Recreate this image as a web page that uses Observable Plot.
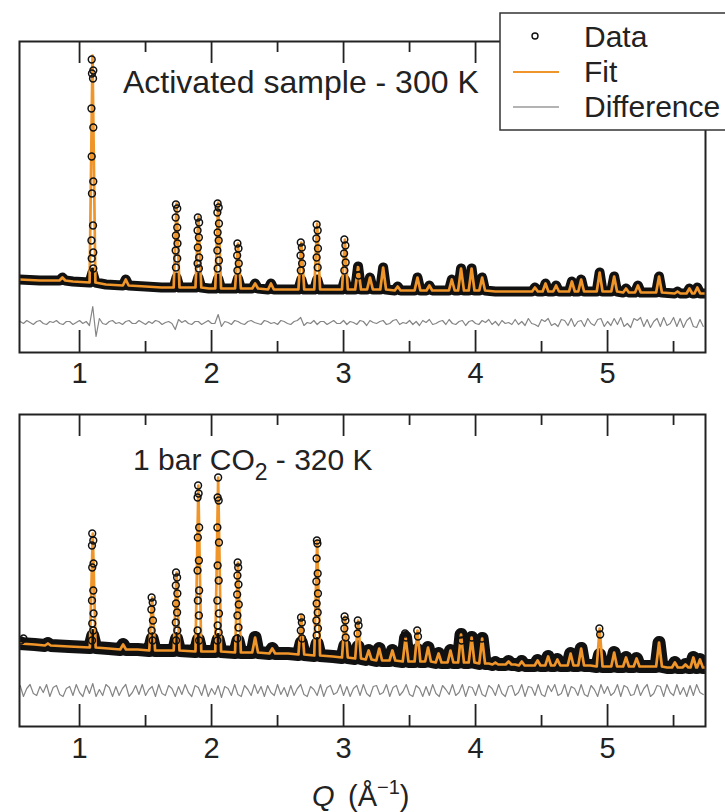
<!DOCTYPE html>
<html><head><meta charset="utf-8">
<script src="https://cdn.jsdelivr.net/npm/d3@7"></script>
<script src="https://cdn.jsdelivr.net/npm/@observablehq/plot@0.6"></script>
<style>
body{margin:0;background:#fff;overflow:hidden}
#wrap{position:relative;width:725px;height:812px;overflow:hidden;font-family:"Liberation Sans",Arial,sans-serif}
#wrap > svg{display:block}
#overlay{position:absolute;left:0;top:0}
</style></head><body><div id="wrap"></div>
<script>
// ---------- axis ----------
const xDomain = [0.545, 5.742];
const majorTicks = [1, 2, 3, 4, 5];
const minorTicks = [1.5, 2.5, 3.5, 4.5, 5.5];
const legendLabels = ["Data", "Fit", "Difference"];
const topTitle = "Activated sample - 300 K";
const botTitle = ["1 bar CO", "2", " - 320 K"];

// ---------- top panel (activated, 300 K) ----------
const topBgQ = [0.545,0.70,0.95,1.20,1.50,1.62,1.98,2.55,2.92,3.50,3.74,4.15,4.30,4.87,5.30,5.742];
const topBgI = [0.73,0.72,0.71,0.68,0.66,0.65,0.64,0.63,0.63,0.62,0.62,0.61,0.61,0.61,0.60,0.59];
const topPeakQ = [0.87,1.098,1.35,1.735,1.90,2.05,2.20,2.33,2.45,2.68,2.80,3.01,3.11,3.20,3.30,3.41,3.56,3.65,3.82,3.89,3.97,4.05,4.45,4.53,4.61,4.73,4.80,4.94,5.05,5.14,5.23,5.39,5.53,5.62,5.68];
const topPeakI = [0.75,2.97,0.73,1.49,1.36,1.50,1.09,0.69,0.69,1.10,1.29,1.13,0.86,0.75,0.85,0.66,0.75,0.67,0.73,0.84,0.84,0.75,0.65,0.69,0.67,0.71,0.73,0.80,0.76,0.64,0.67,0.76,0.61,0.64,0.65];
const topPeakBase = [0.72,0.70,0.67,0.65,0.65,0.64,0.64,0.64,0.63,0.63,0.63,0.63,0.63,0.63,0.63,0.62,0.62,0.62,0.62,0.62,0.62,0.62,0.61,0.61,0.61,0.61,0.61,0.61,0.61,0.60,0.60,0.60,0.59,0.59,0.59];
const topDotQ = [1.092,1.104,1.094,1.102,1.090,1.104,1.092,1.104,1.094,1.102,1.090,1.104,1.092,1.104,
  1.730,1.740,1.728,1.740,1.730,1.742,1.728,1.740,1.730,
  1.896,1.906,1.894,1.904,1.896,1.906,1.894,1.904,
  2.046,2.054,2.044,2.056,2.046,2.054,2.044,2.056,2.046,
  2.196,2.204,2.194,2.206,2.196,
  2.676,2.684,2.674,2.686,2.676,
  2.796,2.804,2.794,2.806,2.796,2.804,
  3.006,3.014,3.004,3.016,3.006,
  3.106,3.114];
const topDotI = [2.93,2.82,2.79,2.74,2.44,2.25,1.96,1.71,1.59,1.27,1.12,1.00,0.94,0.84,
  1.48,1.44,1.35,1.25,1.17,1.09,1.02,0.94,0.85,
  1.35,1.30,1.22,1.15,1.05,0.95,0.89,0.84,
  1.49,1.45,1.40,1.29,1.20,1.12,1.02,0.92,0.84,
  1.09,1.04,0.97,0.89,0.82,
  1.10,1.05,0.97,0.89,0.82,
  1.28,1.22,1.14,1.04,0.95,0.85,
  1.13,1.07,0.99,0.90,0.82,
  0.84,0.77];
const topDiffOffset = 0.30;
const topDiffRes = [1,-1,2,0,-2,1,2,-1,-2,1, 0,2,-1,-2,1,1,-2,0,2,-1, 1,-3,16,-14,4,-1,-2,1,2,-1,
  0,-2,1,2,-1,-1,2,0,-2,1, -1,2,1,-2,0,1,-1,-7,3,0, 2,-1,-2,1,1,-2,0,2,-1,-1,
  8,-4,1,0,-2,2,1,-1,-2,1, 2,0,-1,-2,2,1,-1,0,-2,2, 1,-1,-2,1,2,5,-3,0,-1,2,
  -2,1,1,-2,0,2,-1,-1,2,-2, 1,0,-2,2,1,-3,2,0,-1,1, 2,-2,-1,2,3,-2,0,-1,2,-2,
  1,-3,2,0,3,-2,-1,1,2,-2, 3,-1,-2,1,2,-3,1,2,-1,-2, 2,0,3,-2,1,-3,2,-1,0,-2,
  3,-2,1,-3,4,-1,-2,-4,3,1, 4,-3,-1,-4,3,2,-3,4,-4,1, 2,-4,4,-1,-3,3,4,-4,1,-3,
  4,-2,5,-4,-1,-5,4,2,5,-4, 3,-5,1,4,-4,5,-3,-1,5,-4, 4,-5,2,5,-4,-5,3,-4];

// ---------- bottom panel (1 bar CO2, 320 K) ----------
const botBgQ = [0.545,0.66,0.92,1.22,1.44,1.64,1.98,2.58,2.92,3.765,4.10,4.20,4.30,4.41,4.87,5.30,5.45,5.742];
const botBgI = [0.83,0.82,0.80,0.78,0.77,0.76,0.75,0.73,0.70,0.64,0.63,0.62,0.62,0.61,0.61,0.60,0.59,0.59];
const botPeakQ = [0.76,1.10,1.33,1.55,1.735,1.90,2.05,2.20,2.33,2.46,2.68,2.80,3.01,3.11,3.19,3.27,3.37,3.47,3.56,3.64,3.72,3.81,3.89,3.97,4.05,4.15,4.25,4.35,4.47,4.55,4.62,4.72,4.80,4.94,5.05,5.14,5.22,5.39,5.51,5.59,5.65,5.70];
const botPeakI = [0.83,1.93,0.82,1.29,1.54,2.41,2.49,1.64,0.89,0.78, 1.11,1.86,1.10,1.06,0.76,0.78,0.76,0.89,0.96,0.79, 0.73,0.76,0.92,0.89,0.88,0.64,0.65,0.65,0.66,0.70, 0.67,0.73,0.78,0.98,0.74,0.69,0.68,0.84,0.64,0.62, 0.69,0.67];
const botPeakBase = [0.81,0.79,0.77,0.76,0.76,0.75,0.75,0.74,0.74,0.73, 0.72,0.71,0.69,0.68,0.67,0.66,0.66,0.65,0.65,0.65, 0.64,0.64,0.64,0.64,0.63,0.62,0.62,0.61,0.61,0.61, 0.61,0.61,0.61,0.60,0.60,0.60,0.60,0.60,0.59,0.59, 0.59,0.59];
const botDotQ = [1.096,1.104,1.094,1.106,1.096,1.104,1.094,1.106,1.096,1.104,1.094,
  1.546,1.554,1.544,1.556,1.546,1.554,
  1.731,1.739,1.729,1.741,1.731,1.739,1.729,1.741,1.731,
  1.898,1.902,1.894,1.906,1.896,1.904,1.894,1.906,1.896,1.904,1.894,1.906,
  2.050,2.046,2.054,2.044,2.056,2.046,2.054,2.044,2.056,2.046,2.054,2.044,
  2.198,2.202,2.196,2.204,2.194,2.206,2.196,2.204,2.194,
  2.678,2.684,2.676,2.686,
  2.798,2.802,2.796,2.804,2.794,2.806,2.796,2.804,2.794,2.806,2.796,
  3.008,3.014,3.006,3.016,
  3.108,3.114,3.106,
  3.466,3.474, 3.558,3.564, 3.888,3.894, 3.972, 4.048, 4.938,4.944, 0.556,0.575];
const botDotI = [1.93,1.86,1.81,1.63,1.59,1.36,1.26,1.13,1.03,0.96,0.86,
  1.29,1.24,1.17,1.06,0.96,0.86,
  1.54,1.49,1.41,1.33,1.23,1.14,1.04,0.96,0.86,
  2.41,2.33,2.29,1.99,1.89,1.66,1.56,1.36,1.26,1.11,0.96,0.86,
  2.49,2.29,2.26,1.99,1.84,1.61,1.46,1.26,1.13,1.01,0.94,0.86,
  1.64,1.59,1.51,1.42,1.32,1.22,1.11,0.99,0.88,
  1.09,1.04,0.96,0.88,
  1.86,1.83,1.68,1.53,1.45,1.33,1.23,1.14,1.06,0.98,0.91,
  1.10,1.06,0.98,0.89,
  1.06,1.01,0.93,
  0.93,0.89, 0.96,0.90, 0.92,0.86, 0.89, 0.88, 0.98,0.92, 0.86,0.88];
const botDiffOffset = 0.36;
const botDiffRes = [5,-6,2,6,-3,-5,4,-2,6,-6, 3,5,-4,-6,2,4,-5,6,-2,-6, 5,-3,7,-6,1,-5,6,3,-6,4,
  -5,2,6,-6,-2,5,-4,6,-5,1, 4,-6,6,-3,-5,5,2,-6,4,-4, 6,-2,-6,5,3,-5,6,-6,2,-4,
  5,-7,4,2,-5,6,-4,-6,5,1, -5,6,-3,4,-6,5,-2,-5,6,-4, 3,-6,5,-5,2,6,-4,-6,4,1,
  -5,6,-6,3,5,-4,-2,6,-5,4, -6,2,5,-5,6,-3,-6,4,5,-4, -2,6,-6,3,5,-5,-1,6,-4,-6,
  5,2,-6,4,-5,6,-3,-6,5,1, -4,6,-5,-2,6,-6,4,3,-5,6, -4,-6,5,2,-5,6,-3,-6,4,5,
  -5,-2,6,-6,4,3,-5,6,-4,-6, 5,-1,6,-5,-3,6,-6,4,2,-5, 6,-4,-6,5,1,-6,6,-3,4,-5,
  -2,6,-6,5,3,-5,-4,6,-5,2, 6,-6,-3,5,4,-6,6,-2,-5,6, -4,3,-6,5,-5,6,-2,-4];
const diffStart = 0.55, diffStep = 0.025;

// ---------- build tables ----------
const ORANGE = "#ef952a";
const FONT = "'Liberation Sans', Arial, sans-serif";
const HW = 0.022;

// band = dense-data envelope; the tall peaks show only individual circles above the cap
function profile(bgQ, bgI, pQ, pI, pB, cap) {
  const pts = [];
  pQ.forEach((q, i) => {
    const tall = pI[i] - pB[i] > 0.3;
    const top = (cap != null && tall) ? pB[i] + cap : pI[i];
    pts.push({q: q - HW, I: pB[i]}, {q, I: top}, {q: q + HW, I: pB[i]});
  });
  bgQ.forEach((q, i) => {
    if (!pQ.some(p => Math.abs(p - q) < HW + 0.008)) pts.push({q, I: bgI[i]});
  });
  return pts.sort((a, b) => a.q - b.q);
}
const dots = (Q, I) => Q.map((q, i) => ({q, I: I[i]}));
const diff = (res, off) => res.map((v, i) => ({q: diffStart + i * diffStep, I: off + v / 100}));

function panel(o) {
  const frameH = o.height - o.marginTop - o.marginBottom;
  return Plot.plot({
    width: 725, height: o.height,
    marginTop: o.marginTop, marginBottom: o.marginBottom, marginLeft: 19, marginRight: 20,
    x: {domain: xDomain, ticks: majorTicks, tickSize: 0, tickPadding: o.tickPad, tickFormat: d => String(d), label: null},
    y: {domain: [0, o.yMax], axis: null},
    style: {fontFamily: FONT, fontSize: "29px", color: "#222", background: "white", overflow: "visible"},
    marks: [
      Plot.line(o.diff, {x: "q", y: "I", stroke: "#858585", strokeWidth: 1.2, clip: true}),
      Plot.line(o.band, {x: "q", y: "I", stroke: "#111", strokeWidth: o.bandW, strokeLinejoin: "round", strokeLinecap: "round", clip: true}),
      Plot.line(o.fit, {x: "q", y: "I", stroke: ORANGE, strokeWidth: 2.7, clip: true}),
      Plot.dot(o.dots, {x: "q", y: "I", r: 3.4, stroke: "#111", strokeWidth: 1.5, fill: "none", clip: true}),
      Plot.ruleX(majorTicks, {stroke: "#222", strokeWidth: 1.8, insetTop: frameH - 22}),
      Plot.ruleX(majorTicks, {stroke: "#222", strokeWidth: 1.8, insetBottom: frameH - 22}),
      Plot.ruleX(minorTicks, {stroke: "#222", strokeWidth: 1.8, insetTop: frameH - 11}),
      Plot.ruleX(minorTicks, {stroke: "#222", strokeWidth: 1.8, insetBottom: frameH - 11}),
      Plot.frame({stroke: "#222", strokeWidth: 2})
    ]
  });
}

const wrap = document.getElementById("wrap");
wrap.appendChild(panel({
  height: 400, marginTop: 41, marginBottom: 48, yMax: 3.11, tickPad: 10, bandW: 10,
  fit: profile(topBgQ, topBgI, topPeakQ, topPeakI, topPeakBase, null),
  band: profile(topBgQ, topBgI, topPeakQ, topPeakI, topPeakBase, 0.10),
  dots: dots(topDotQ, topDotI),
  diff: diff(topDiffRes, topDiffOffset)
}));
wrap.appendChild(panel({
  height: 412, marginTop: 14, marginBottom: 86, yMax: 3.12, tickPad: 11, bandW: 13,
  fit: profile(botBgQ, botBgI, botPeakQ, botPeakI, botPeakBase, null),
  band: profile(botBgQ, botBgI, botPeakQ, botPeakI, botPeakBase, 0.12),
  dots: dots(botDotQ, botDotI),
  diff: diff(botDiffRes, botDiffOffset)
}));

// ---------- overlay: legend, annotations, axis label ----------
const ov = d3.select(wrap).append("svg").attr("id", "overlay")
  .attr("width", 725).attr("height", 812)
  .attr("font-family", FONT).attr("fill", "#222");

ov.append("rect").attr("x", 500).attr("y", 13).attr("width", 270).attr("height", 117)
  .attr("fill", "white").attr("stroke", "#333").attr("stroke-width", 1.5);
ov.append("circle").attr("cx", 535).attr("cy", 36).attr("r", 3)
  .attr("fill", "none").attr("stroke", "#111").attr("stroke-width", 1.4);
ov.append("line").attr("x1", 513).attr("x2", 559).attr("y1", 72).attr("y2", 72)
  .attr("stroke", ORANGE).attr("stroke-width", 2);
ov.append("line").attr("x1", 513).attr("x2", 559).attr("y1", 107).attr("y2", 107)
  .attr("stroke", "#9a9a9a").attr("stroke-width", 1.5);
legendLabels.forEach((t, i) => {
  ov.append("text").attr("x", 584).attr("y", 47 + 35 * i).attr("font-size", 30).text(t);
});

ov.append("text").attr("x", 123).attr("y", 93).attr("font-size", 32).text(topTitle);
const bt = ov.append("text").attr("x", 133).attr("y", 470).attr("font-size", 30);
bt.append("tspan").text(botTitle[0]);
bt.append("tspan").attr("font-size", 23).attr("dy", 10).text(botTitle[1]);
bt.append("tspan").attr("dy", -10).text(botTitle[2]);

ov.append("text").attr("x", 312).attr("y", 806).attr("font-size", 29)
  .attr("font-style", "italic").text("Q");
const al = ov.append("text").attr("x", 348).attr("y", 806).attr("font-size", 29);
al.append("tspan").text("(Å");
al.append("tspan").attr("font-size", 20).attr("dy", -12).text("−1");
al.append("tspan").attr("dy", 12).text(")");
</script></body></html>
